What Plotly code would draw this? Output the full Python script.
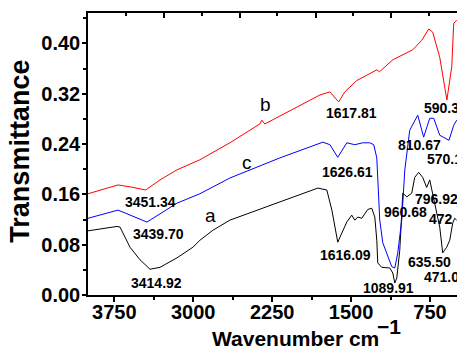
import plotly.graph_objects as go

# ---- data (wavenumber cm^-1, transmittance) ----
a_wn = [4000, 3725, 3696, 3601, 3506, 3411, 3316, 3155, 3003, 2937, 2813, 2652, 2177, 1816, 1731,
        1683, 1627, 1579, 1541, 1494, 1465, 1437, 1399, 1342, 1304, 1275, 1256, 1247, 1209, 1133,
        1104, 1085, 1066, 1038, 1009, 971, 924, 896, 858, 820, 782, 753, 725, 658, 630, 592, 563,
        535, 516, 497]
a_tr = [0.102, 0.109, 0.108, 0.076, 0.056, 0.041, 0.044, 0.059, 0.076, 0.087, 0.103, 0.119, 0.148,
        0.170, 0.167, 0.135, 0.084, 0.103, 0.116, 0.127, 0.119, 0.124, 0.122, 0.136, 0.138, 0.124,
        0.087, 0.051, 0.044, 0.043, 0.035, 0.019, 0.027, 0.071, 0.162, 0.156, 0.162, 0.187, 0.195,
        0.187, 0.171, 0.183, 0.162, 0.108, 0.067, 0.076, 0.087, 0.114, 0.122, 0.119]

b_wn = [4000, 3886, 3715, 3601, 3451, 3316, 3155, 2937, 2652, 2367, 2348, 2320, 2016, 1797, 1702,
        1618, 1560, 1446, 1256, 1230, 1104, 914, 829, 763, 725, 658, 590, 544, 525, 497]
b_tr = [0.161, 0.167, 0.175, 0.172, 0.167, 0.183, 0.199, 0.215, 0.242, 0.272, 0.278, 0.272, 0.299,
        0.318, 0.323, 0.307, 0.323, 0.341, 0.358, 0.355, 0.374, 0.390, 0.405, 0.423, 0.418, 0.378,
        0.310, 0.363, 0.432, 0.437]

c_wn = [4000, 3715, 3440, 3155, 2937, 2652, 2177, 1769, 1702, 1627, 1541, 1465, 1389, 1323, 1285,
        1256, 1228, 1199, 1114, 1085, 1057, 1019, 990, 943, 867, 811, 753, 715, 658, 570, 525, 497]
c_tr = [0.122, 0.135, 0.116, 0.146, 0.161, 0.186, 0.218, 0.243, 0.239, 0.219, 0.242, 0.239, 0.242,
        0.242, 0.239, 0.218, 0.119, 0.083, 0.045, 0.043, 0.067, 0.119, 0.199, 0.262, 0.286, 0.251,
        0.281, 0.281, 0.254, 0.246, 0.270, 0.278]

x_ticks = [3750, 3000, 2250, 1500, 750]
x_minor = [3375, 2625, 1875, 1125]
y_ticks = [0.00, 0.08, 0.16, 0.24, 0.32, 0.40]
y_minor = [0.04, 0.12, 0.20, 0.28, 0.36, 0.44]
top_major = [3278, 2557, 1835, 1123]
top_minor = [3639, 2918, 2206, 1484, 763]

# peak labels: (text, x, y, anchor)
peak_labels = [
    ("3451.34", 3402, 0.148, "center"),
    ("3439.70", 3326, 0.097, "center"),
    ("3414.92", 3345, 0.019, "center"),
    ("1617.81", 1494, 0.289, "center"),
    ("1626.61", 1532, 0.195, "center"),
    ("1616.09", 1551, 0.063, "center"),
    ("1089.91", 1142, 0.011, "center"),
    ("960.68", 981, 0.132, "center"),
    ("796.92", 914, 0.152, "left"),
    ("472", 782, 0.121, "left"),
    ("635.50", 758, 0.052, "center"),
    ("471.0", 829, 0.029, "left"),
    ("590.3", 829, 0.297, "left"),
    ("810.67", 853, 0.238, "center"),
    ("570.1", 800, 0.217, "left"),
]
curve_labels = [("a", 2832, 0.127), ("b", 2310, 0.303), ("c", 2490, 0.211)]

FONT = "Liberation Sans, Arial, sans-serif"
XR = [4000, 494]
YR = [0, 0.4484]

fig = go.Figure()
fig.add_trace(go.Scatter(x=a_wn, y=a_tr, mode="lines", line=dict(color="black", width=1), showlegend=False))
fig.add_trace(go.Scatter(x=b_wn, y=b_tr, mode="lines", line=dict(color="#ff0000", width=1), showlegend=False))
fig.add_trace(go.Scatter(x=c_wn, y=c_tr, mode="lines", line=dict(color="#0000ff", width=1), showlegend=False))
# invisible trace for top axis
fig.add_trace(go.Scatter(x=[XR[0]], y=[YR[0]], xaxis="x2", mode="markers", marker=dict(opacity=0),
                         showlegend=False, hoverinfo="skip"))

for t, x, y, anc in peak_labels:
    fig.add_annotation(x=x, y=y, text=f"<b>{t}</b>", showarrow=False, xanchor=anc, yanchor="middle",
                       font=dict(family=FONT, size=14, color="black"), xref="x", yref="y")
for t, x, y in curve_labels:
    fig.add_annotation(x=x, y=y, text=t, showarrow=False, xanchor="center", yanchor="middle",
                       font=dict(family=FONT, size=19, color="black"), xref="x", yref="y")

fig.add_annotation(x=0.5623, y=-0.156, xref="paper", yref="paper", text="<b>Wavenumber cm</b>",
                   showarrow=False, xanchor="center", yanchor="middle",
                   font=dict(family=FONT, size=21, color="black"))
fig.add_annotation(x=0.815, y=-0.112, xref="paper", yref="paper", text="<b>\u22121</b>",
                   showarrow=False, xanchor="center", yanchor="middle",
                   font=dict(family=FONT, size=21, color="black"))
fig.add_annotation(x=-0.183, y=0.51, xref="paper", yref="paper", text="<b>Transmittance</b>",
                   textangle=-90, showarrow=False, xanchor="center", yanchor="middle",
                   font=dict(family=FONT, size=27, color="black"))

fig.update_layout(
    width=457, height=348,
    margin=dict(l=88, r=0, t=13, b=53),
    paper_bgcolor="white", plot_bgcolor="white",
    showlegend=False,
    font=dict(family=FONT, color="black"),
    xaxis=dict(range=XR, showgrid=False, zeroline=False, showline=True, linecolor="black", linewidth=1.5,
               ticks="outside", ticklen=5, tickwidth=1.5, tickcolor="black", ticklabelstandoff=-7,
               tickvals=x_ticks, ticktext=[f"<b>{v}</b>" for v in x_ticks],
               tickfont=dict(family=FONT, size=20, color="black"),
               minor=dict(tickvals=x_minor, ticks="outside", ticklen=3, tickwidth=1.5, tickcolor="black")),
    xaxis2=dict(range=XR, overlaying="x", side="top", showgrid=False, zeroline=False, showline=True,
                linecolor="black", linewidth=1.5, ticks="inside", ticklen=5, tickwidth=1.5,
                tickcolor="black", tickvals=top_major, showticklabels=False,
                minor=dict(tickvals=top_minor, ticks="inside", ticklen=3, tickwidth=1.5, tickcolor="black")),
    yaxis=dict(range=YR, showgrid=False, zeroline=False, showline=True, linecolor="black", linewidth=1.5,
               ticks="outside", ticklen=4, tickwidth=1.5, tickcolor="black", ticklabelstandoff=-2,
               tickvals=y_ticks, ticktext=[f"<b>{v:.2f}</b>" for v in y_ticks],
               tickfont=dict(family=FONT, size=20, color="black"),
               minor=dict(tickvals=y_minor, ticks="outside", ticklen=3, tickwidth=1.5, tickcolor="black")),
)

fig.write_html("out.html")
